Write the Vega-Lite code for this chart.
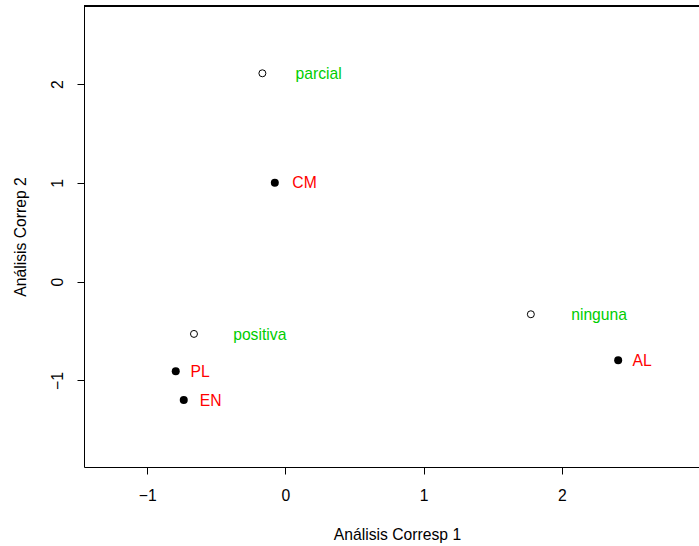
{
  "$schema": "https://vega.github.io/schema/vega-lite/v6.json",
  "width": 615,
  "height": 461,
  "autosize": "none",
  "padding": {"left": 84, "top": 6, "right": 0, "bottom": 79},
  "background": "white",
  "config": {
    "view": {"stroke": null},
    "font": "Liberation Sans",
    "axis": {
      "grid": false,
      "domainColor": "black",
      "domainWidth": 1,
      "tickColor": "black",
      "tickWidth": 1,
      "tickSize": 7,
      "labelColor": "black",
      "labelFont": "Liberation Sans",
      "labelFontSize": 15.7,
      "titleColor": "black",
      "titleFont": "Liberation Sans",
      "titleFontSize": 15.7,
      "titleFontWeight": "normal"
    }
  },
  "data": {
    "values": [
      {"label": "parcial", "x": -0.167, "y": 2.109, "lx": 0.240, "grupo": "columna"},
      {"label": "positiva", "x": -0.662, "y": -0.529, "lx": -0.186, "grupo": "columna"},
      {"label": "ninguna", "x": 1.776, "y": -0.330, "lx": 2.270, "grupo": "columna"},
      {"label": "CM", "x": -0.077, "y": 1.002, "lx": 0.138, "grupo": "fila"},
      {"label": "PL", "x": -0.794, "y": -0.907, "lx": -0.617, "grupo": "fila"},
      {"label": "EN", "x": -0.736, "y": -1.197, "lx": -0.542, "grupo": "fila"},
      {"label": "AL", "x": 2.408, "y": -0.796, "lx": 2.581, "grupo": "fila"}
    ]
  },
  "layer": [
    {
      "mark": {"type": "rule", "color": "black", "strokeWidth": 1},
      "encoding": {"y": {"datum": 2.79, "type": "quantitative"}}
    },
    {
      "transform": [{"filter": "datum.grupo == 'columna'"}],
      "mark": {"type": "point", "shape": "circle", "filled": false, "stroke": "black", "strokeWidth": 1, "size": 49, "opacity": 1},
      "encoding": {
        "x": {
          "field": "x", "type": "quantitative",
          "scale": {"domain": [-1.458, 2.993], "nice": false, "zero": false},
          "axis": {
            "values": [-1, 0, 1, 2, 3],
            "format": "d",
            "title": "Análisis Corresp 1",
            "labelPadding": 26,
            "labelBaseline": "alphabetic",
            "labelFlush": false,
            "titleX": 313,
            "titleY": 72.5,
            "titleBaseline": "alphabetic",
            "titleAnchor": "middle",
            "titleAlign": "center"
          }
        },
        "y": {
          "field": "y", "type": "quantitative",
          "scale": {"domain": [-1.876, 2.79], "nice": false, "zero": false},
          "axis": {
            "values": [-1, 0, 1, 2],
            "format": "d",
            "title": "Análisis Correp 2",
            "labelAngle": -90,
            "labelAlign": "center",
            "labelBaseline": "alphabetic",
            "labelPadding": 15,
            "labelFlush": false,
            "titleX": -59,
            "titleY": 230.5,
            "titleAngle": -90,
            "titleAlign": "center",
            "titleBaseline": "alphabetic"
          }
        }
      }
    },
    {
      "transform": [{"filter": "datum.grupo == 'fila'"}],
      "mark": {"type": "point", "shape": "circle", "filled": true, "color": "black", "size": 64, "opacity": 1},
      "encoding": {
        "x": {"field": "x", "type": "quantitative"},
        "y": {"field": "y", "type": "quantitative"}
      }
    },
    {
      "mark": {"type": "text", "align": "center", "baseline": "alphabetic", "dy": 5.6, "fontSize": 15.7, "font": "Liberation Sans"},
      "encoding": {
        "x": {"field": "lx", "type": "quantitative"},
        "y": {"field": "y", "type": "quantitative"},
        "text": {"field": "label"},
        "color": {
          "field": "grupo", "type": "nominal",
          "scale": {"domain": ["columna", "fila"], "range": ["#00CD00", "#FF0000"]},
          "legend": null
        }
      }
    }
  ]
}
